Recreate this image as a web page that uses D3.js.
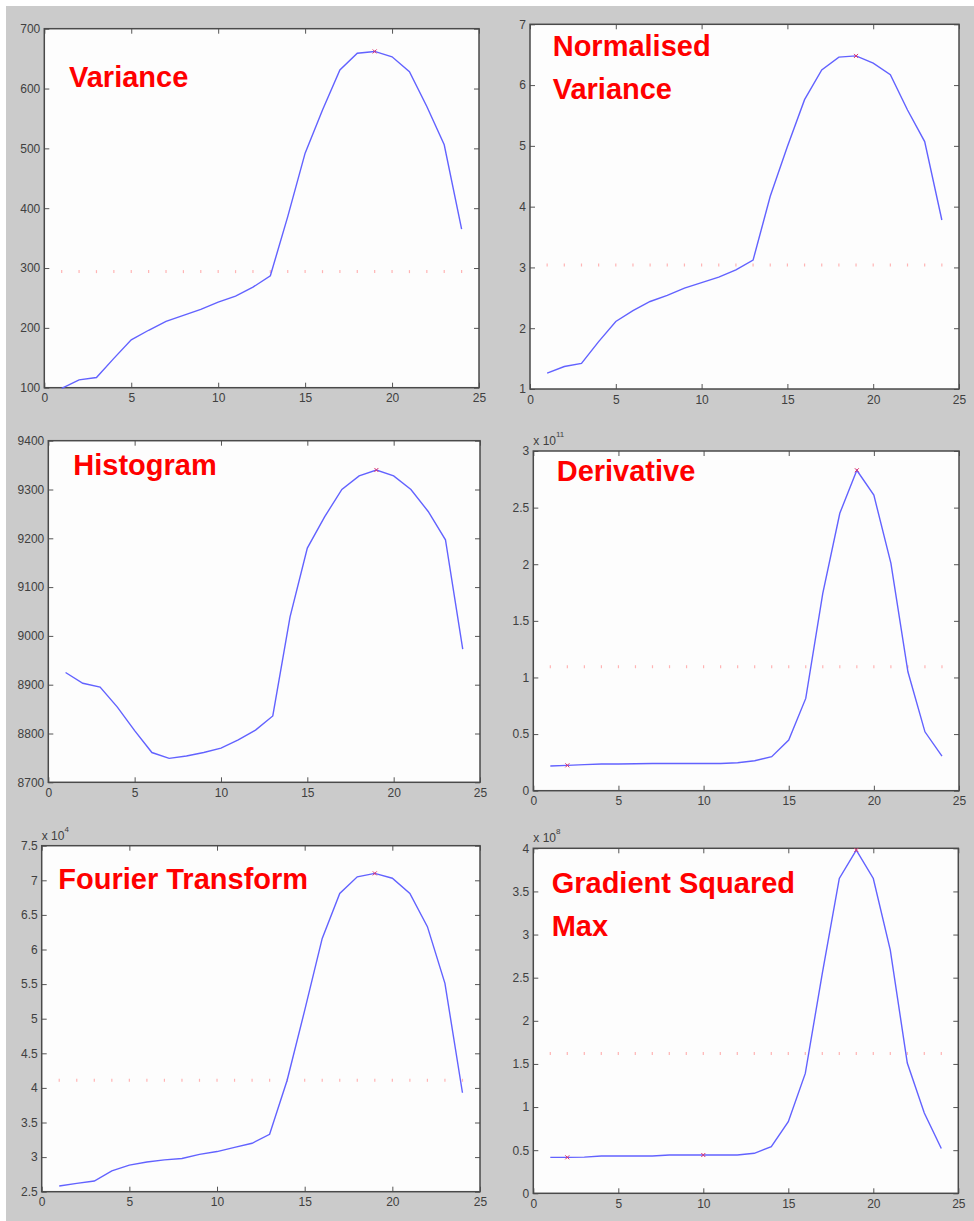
<!DOCTYPE html>
<html lang="en">
  <head>
    <meta charset="UTF-8" />
    <title>focus measures</title>
    <style>
      body {
        margin: 0;
        background: #fff;
      }
      svg {
        display: block;
      }
      .tick text {
        font-family: "Liberation Sans", Arial, sans-serif;
        font-size: 12px;
        fill: #404040;
      }
      .tick line {
        stroke: #555;
      }
      .title {
        font-family: "Liberation Sans", Arial, sans-serif;
        font-weight: bold;
        font-size: 29px;
        fill: #ff0000;
      }
      .expo {
        font-family: "Liberation Sans", Arial, sans-serif;
        font-size: 12px;
        fill: #404040;
      }
    </style>
    <script src="https://cdn.jsdelivr.net/npm/d3@7"></script>
  </head>
  <body>
    <div class="container"></div>
    <script>
      // lens position index
      const steps = [1, 2, 3, 4, 5, 6, 7, 8, 9, 10, 11, 12, 13, 14, 15, 16, 17, 18, 19, 20, 21, 22, 23, 24];

      const variance = [99, 113, 117, 149, 180, 196, 211, 221, 231, 243, 253, 268, 287, 386, 492, 564, 631, 659, 662, 653, 628, 570, 506, 365];
      const normVariance = [1.26, 1.37, 1.42, 1.78, 2.11, 2.29, 2.44, 2.54, 2.66, 2.75, 2.84, 2.96, 3.12, 4.17, 4.99, 5.76, 6.25, 6.46, 6.48, 6.36, 6.17, 5.59, 5.07, 3.78];
      const histogram = [8925, 8903, 8895, 8854, 8806, 8761, 8749, 8754, 8761, 8770, 8787, 8807, 8836, 9039, 9180, 9244, 9300, 9328, 9340, 9328, 9300, 9255, 9197, 8973];
      // x 10^11
      const derivative = [0.218, 0.224, 0.23, 0.236, 0.236, 0.238, 0.24, 0.24, 0.24, 0.24, 0.24, 0.247, 0.265, 0.3, 0.447, 0.815, 1.743, 2.45, 2.83, 2.61, 2.01, 1.05, 0.52, 0.306];
      // x 10^4
      const fourier = [2.582, 2.62, 2.654, 2.8, 2.885, 2.93, 2.96, 2.98, 3.04, 3.08, 3.14, 3.2, 3.33, 4.11, 5.12, 6.16, 6.81, 7.05, 7.1, 7.03, 6.81, 6.33, 5.51, 3.93];
      // x 10^8
      const gradSq = [0.417, 0.417, 0.42, 0.433, 0.433, 0.433, 0.433, 0.444, 0.444, 0.444, 0.444, 0.444, 0.464, 0.54, 0.83, 1.39, 2.55, 3.65, 3.98, 3.65, 2.82, 1.51, 0.93, 0.52];

      const titles = [["Variance"], ["Normalised", "Variance"], ["Histogram"], ["Derivative"], ["Fourier Transform"], ["Gradient Squared", "Max"]];
      const exponents = [null, null, null, "11", "4", "8"];
      const thresholds = [294, 3.04, null, 1.095, 4.11, 1.62];
      const markerSteps = [[19], [19], [19], [2, 19], [19], [2, 10, 19]];
      const xTicks = [0, 5, 10, 15, 20, 25];
      const yTicks = [
        [100, 200, 300, 400, 500, 600, 700],
        [1, 2, 3, 4, 5, 6, 7],
        [8700, 8800, 8900, 9000, 9100, 9200, 9300, 9400],
        [0, 0.5, 1, 1.5, 2, 2.5, 3],
        [2.5, 3, 3.5, 4, 4.5, 5, 5.5, 6, 6.5, 7, 7.5],
        [0, 0.5, 1, 1.5, 2, 2.5, 3, 3.5, 4],
      ];
      const series = [variance, normVariance, histogram, derivative, fourier, gradSq];

      // plot boxes: left, right, top, bottom
      const boxes = [
        [44.3, 479, 28.7, 387.7],
        [530, 959, 24.3, 389],
        [48.3, 480, 440.7, 782.3],
        [533.3, 959, 451, 790.7],
        [41.7, 480, 845.7, 1191.7],
        [533.3, 958.3, 848.3, 1193.3],
      ];
      // title anchor (x, first baseline) and line gap
      const titlePos = [
        [69, 87],
        [552.7, 56],
        [73.3, 475],
        [556.7, 481],
        [58.3, 889.3],
        [551.7, 892.7],
      ];
      const titleGap = 43;

      const width = 974,
        height = 1221;

      const svg = d3
        .select(".container")
        .append("svg")
        .attr("width", width)
        .attr("height", height);

      svg
        .append("rect")
        .attr("x", 6)
        .attr("y", 6)
        .attr("width", width - 6)
        .attr("height", height - 6)
        .attr("fill", "#cbcbcb");

      series.forEach(function (vals, i) {
        const [l, r, t, b] = boxes[i];
        const yt = yTicks[i];
        const x = d3.scaleLinear().domain([0, 25]).range([l, r]);
        const y = d3
          .scaleLinear()
          .domain([yt[0], yt[yt.length - 1]])
          .range([b, t]);

        const g = svg.append("g");

        g.append("rect")
          .attr("x", l)
          .attr("y", t)
          .attr("width", r - l)
          .attr("height", b - t)
          .attr("fill", "#fdfdfd");

        const fmt = d3.format("~g");

        // bottom + left with labels, top + right ticks only; all ticks inward
        g.append("g")
          .attr("transform", "translate(0," + b + ")")
          .call(d3.axisBottom(x).tickValues(xTicks).tickSize(-5).tickPadding(6).tickFormat(fmt))
          .call((s) => s.select(".domain").remove());
        g.append("g")
          .attr("transform", "translate(0," + t + ")")
          .call(d3.axisTop(x).tickValues(xTicks).tickSize(-5).tickFormat(""))
          .call((s) => s.select(".domain").remove());
        g.append("g")
          .attr("transform", "translate(" + l + ",0)")
          .call(d3.axisLeft(y).tickValues(yt).tickSize(-5).tickPadding(4).tickFormat(fmt))
          .call((s) => s.select(".domain").remove());
        g.append("g")
          .attr("transform", "translate(" + r + ",0)")
          .call(d3.axisRight(y).tickValues(yt).tickSize(-5).tickFormat(""))
          .call((s) => s.select(".domain").remove());

        g.append("rect")
          .attr("x", l)
          .attr("y", t)
          .attr("width", r - l)
          .attr("height", b - t)
          .attr("fill", "none")
          .attr("stroke", "#4a4a4a")
          .attr("stroke-width", 1.5);

        // threshold as a dotted red line (one mark per step)
        if (thresholds[i] !== null) {
          g.selectAll(".thr")
            .data(steps)
            .enter()
            .append("line")
            .attr("x1", (d) => x(d))
            .attr("x2", (d) => x(d))
            .attr("y1", y(thresholds[i]) - 1.5)
            .attr("y2", y(thresholds[i]) + 1.5)
            .attr("stroke", "#ffb4b4")
            .attr("stroke-width", 1.2);
        }

        const line = d3
          .line()
          .x((d, j) => x(steps[j]))
          .y((d) => y(d));

        g.append("path")
          .datum(vals)
          .attr("d", line)
          .attr("fill", "none")
          .attr("stroke", "#6262ff")
          .attr("stroke-width", 1.4);

        // red x markers
        markerSteps[i].forEach(function (s) {
          const cx = x(s),
            cy = y(vals[s - 1]);
          const m = 2;
          g.append("path")
            .attr("d", "M" + (cx - m) + "," + (cy - m) + "L" + (cx + m) + "," + (cy + m) + "M" + (cx - m) + "," + (cy + m) + "L" + (cx + m) + "," + (cy - m))
            .attr("stroke", "#e0306a")
            .attr("stroke-width", 1);
        });

        if (exponents[i]) {
          const ex = g
            .append("text")
            .attr("class", "expo")
            .attr("x", l + 0)
            .attr("y", t - 6);
          ex.append("tspan").text("x 10");
          ex.append("tspan").attr("dy", -8).attr("font-size", 8).text(exponents[i]);
        }

        titles[i].forEach(function (txt, k) {
          g.append("text")
            .attr("class", "title")
            .attr("x", titlePos[i][0])
            .attr("y", titlePos[i][1] + k * titleGap)
            .text(txt);
        });
      });
    </script>
  </body>
</html>
